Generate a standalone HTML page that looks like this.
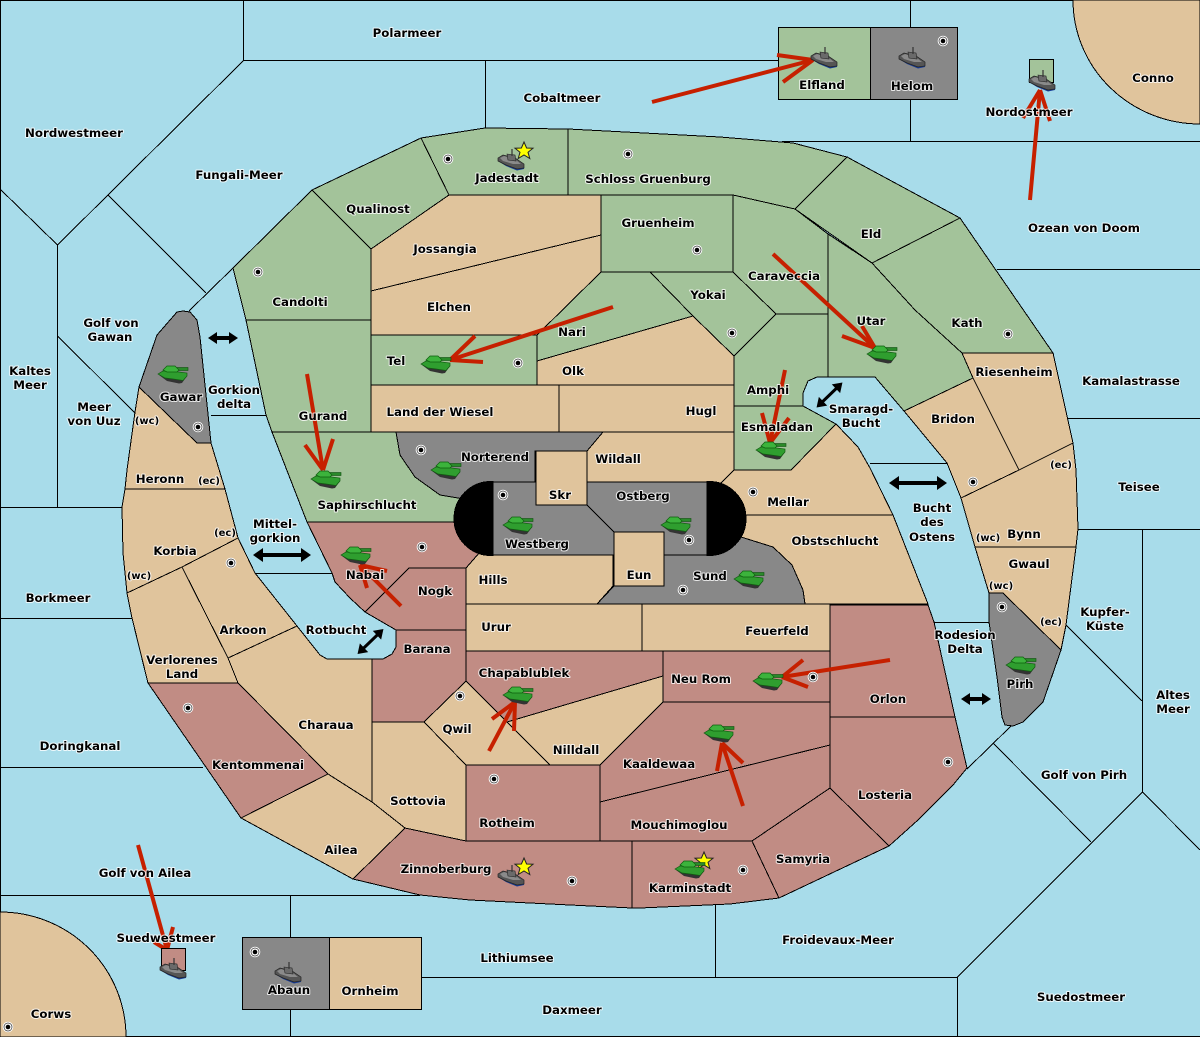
<!DOCTYPE html>
<html><head><meta charset="utf-8"><title>Map</title>
<style>
html,body{margin:0;padding:0;background:#a8dcea}
svg{display:block}
.l polygon,.l path{stroke:#000;stroke-width:1;shape-rendering:crispEdges;stroke-linejoin:miter}
.g{fill:#a3c39a}.t{fill:#e0c49c}.r{fill:#c18c84}.y{fill:#888888}
.s polyline,.s line{fill:none;stroke:#000;stroke-width:1;shape-rendering:crispEdges}
.a line{stroke:#c62000;stroke-width:4;stroke-linecap:butt}
text{font-family:"DejaVu Sans","Liberation Sans",sans-serif;font-weight:bold;font-size:11.8px;fill:#000;text-anchor:middle;paint-order:stroke;stroke:#fff;stroke-opacity:.8;stroke-width:2px;stroke-linejoin:round}
</style></head><body>
<svg xmlns="http://www.w3.org/2000/svg" width="1200" height="1037" viewBox="0 0 1200 1037">
<defs>
<g id="tank">
<polygon points="-14,1 -6,7 6,9.500 9,9 14,2" fill="#333"/>
<polygon points="-15,0 -10,-3 -2,-3 14,-1 14,2 10,6.500 0,5 -8,4" fill="#2f9e2f" stroke="#125a12" stroke-width=".7"/>
<rect x="3" y="-6.500" width="12" height="3" fill="#2a8a2a" stroke="#0f4f0f" stroke-width=".6"/>
<polygon points="-10,-4 -6,-8 2,-8 6,-4 4,-2 -6,-2" fill="#3cb33c" stroke="#0e5e0e" stroke-width=".7"/>
</g>
<g id="boat">
<polygon points="-13,1 -5,6 6,10.500 13,9 13,6" fill="#163c96"/>
<polygon points="-13,-2 -8,-5 4,-2 13,4 13,8 6,9 -5,5 -13,1" fill="#555" stroke="#222" stroke-width=".7"/>
<polygon points="-11,-2 -7,-4 5,0 10,4 2,4 -8,1" fill="#8a8a8a"/>
<polygon points="-4,-6 4,-5 5,1 -3,0" fill="#6a6a6a" stroke="#222" stroke-width=".6"/>
<line x1="1" y1="-11" x2="1" y2="-4" stroke="#333" stroke-width="1.200"/>
</g>
<g id="dot"><circle r="5.300" fill="#fff"/><circle r="4" fill="none" stroke="#333" stroke-width=".7"/><circle r="2.300" fill="#000"/></g>
<polygon id="star" points="0,-9 2.600,-3 9,-2.800 4,1.300 5.800,7.500 0,4 -5.800,7.500 -4,1.300 -9,-2.800 -2.600,-3" fill="#ffff00" stroke="#222" stroke-width="1"/>
</defs>
<rect width="1200" height="1037" fill="#a8dcea"/>
<g class="s">
<polyline points="0,0.500 1200,0.500"/><polyline points="0.500,0 0.500,1037"/><polyline points="0,1036.500 1200,1036.500"/>
<polyline points="243.500,0 243.500,60.500 57.500,245 0,189"/>
<polyline points="57.500,245 57.500,507"/>
<polyline points="108,195 206,293"/>
<polyline points="189,311 233,268"/>
<polyline points="57.500,336 135,413"/>
<polyline points="211,415.500 266,415.500"/>
<polyline points="243,60.500 778,60.500"/>
<polyline points="485.500,60 485.500,128"/>
<polyline points="910.500,0 910.500,27"/><polyline points="910.500,100 910.500,141"/>
<polyline points="782,141.500 1200,141.500"/>
<polyline points="997,269.500 1200,269.500"/>
<polyline points="1068,418.500 1200,418.500"/>
<polyline points="1078,529.500 1200,529.500"/>
<polyline points="1142.500,529 1142.500,792"/>
<polyline points="1200,850 1142.500,792 957.500,977 957.500,1037"/>
<polyline points="957.500,977.500 422,977.500"/>
<polyline points="0,895.500 420,895.500"/>
<polyline points="290.500,896 290.500,937"/><polyline points="290.500,1010 290.500,1037"/>
<polyline points="715.500,905 715.500,977"/>
<polyline points="993,743 1091,842"/>
<polyline points="1011,726 967,769"/>
<polyline points="1066,625 1142,701"/>
<polyline points="934,622.500 989,622.500"/>
<polyline points="870,463.500 947,463.500"/>
<polyline points="255,573.500 332,573.500"/>
<polyline points="0,507.500 122,507.500"/><polyline points="0,618.500 132,618.500"/><polyline points="0,767.500 203,767.500"/>
</g>
<g class="l">
<path class="t" d="M1073,0 A127,124 0 0 0 1200,124 L1200,0 Z"/>
<path class="t" d="M0,912 A126,125 0 0 1 126,1037 L0,1037 Z"/>
<!-- green -->
<polygon class="g" points="233,268 312,190 371,249 371,320 246,320"/>
<polygon class="g" points="312,190 421,138 449,195 371,249"/>
<polygon class="g" points="421,138 485,128 568,129 568,195 449,195"/>
<polygon class="g" points="568,129 720,137 793,143 847,157 795,209 733,195 568,195"/>
<polygon class="g" points="847,157 960,218 872,263 795,209"/>
<polygon class="g" points="960,218 1053,353 962,353 915,310 872,263"/>
<polygon class="g" points="733,195 795,209 828,234 828,314 776,314 733,272"/>
<polygon class="g" points="650,272 733,272 776,314 734,356 693,316"/>
<polygon class="g" points="601,195 733,195 733,272 601,272"/>
<polygon class="g" points="601,272 650,272 693,316 537,361 537,335"/>
<polygon class="g" points="371,335 537,335 537,385 371,385"/>
<polygon class="g" points="734,356 776,314 828,314 828,377 817,377 808,381 803,393 803,406 734,406"/>
<polygon class="g" points="734,406 803,406 836,424 791,470 734,470"/>
<polygon class="g" points="828,234 872,263 915,310 962,353 973,378 904,411 875,377 828,377"/>
<polygon class="g" points="246,320 371,320 371,432 272,432 266,415"/>
<polygon class="g" points="272,432 396,432 400,455 415,477 440,495 470,500 470,522 307,522"/>
<!-- tan -->
<polygon class="t" points="449,195 601,195 601,235 371,291 371,249"/>
<polygon class="t" points="371,291 601,235 601,272 537,335 371,335"/>
<polygon class="t" points="537,361 693,316 734,356 734,385 537,385"/>
<polygon class="t" points="371,385 559,385 559,432 371,432"/>
<polygon class="t" points="559,385 734,385 734,432 559,432"/>
<polygon class="t" points="962,353 1053,353 1073,443 1019,470 973,378"/>
<polygon class="t" points="904,411 973,378 1019,470 961,498 947,463"/>
<polygon class="t" points="961,498 1019,470 1073,443 1076,470 1078,529 1076,547 975,547"/>
<polygon class="t" points="975,547 1076,547 1066,625 1061,650 1003,593 989,593"/>
<polygon class="t" points="603,432 734,432 734,470 721,483 700,500 587,500 587,451"/>
<polygon class="t" points="721,483 734,470 791,470 836,424 858,447 870,468 893,515 745,515 730,500"/>
<polygon class="t" points="730,515 893,515 928,604 805,604 803,590 792,565 773,547 741,537 730,530"/>
<polygon class="t" points="466,568 480,550 613,550 613,586 597,604 466,604"/>
<polygon class="t" points="466,604 642,604 642,651 466,651"/>
<polygon class="t" points="642,604 830,604 830,651 642,651"/>
<polygon class="t" points="466,681 550,765 466,765 424,722"/>
<polygon class="t" points="507,722 663,676 663,702 600,765 550,765"/>
<polygon class="t" points="372,722 424,722 466,765 466,841 405,828 372,802"/>
<polygon class="t" points="228,658 297,626 320,655 327,659 372,659 372,802 328,774 238,683"/>
<polygon class="t" points="241,818 328,774 372,802 405,828 353,879"/>
<polygon class="t" points="182,567 238,538 255,573 297,626 228,658"/>
<polygon class="t" points="125,489 225,489 238,538 182,567 127,593 123,553 122,507"/>
<polygon class="t" points="127,593 182,567 228,658 238,683 148,683 132,618"/>
<polygon class="t" points="139,387 197,443 211,443 225,489 125,489 127,470 135,412"/>
<!-- rosy -->
<polygon class="r" points="830,605 928,605 934,622 955,717 830,717"/>
<polygon class="r" points="830,717 955,717 967,768 953,785 918,820 889,846 830,788"/>
<polygon class="r" points="830,788 889,846 779,898 752,841"/>
<polygon class="r" points="632,841 752,841 779,898 730,904 640,908 632,908"/>
<polygon class="r" points="405,828 466,841 632,841 632,908 570,905 470,900 420,895 353,879"/>
<polygon class="r" points="148,683 238,683 328,774 241,818"/>
<polygon class="r" points="396,630 466,630 466,681 424,722 372,722 372,659 383,659 392,654 396,647"/>
<polygon class="r" points="409,568 466,568 466,630 396,630 365,612"/>
<polygon class="r" points="307,522 470,522 470,540 480,552 466,568 409,568 365,612 350,598 335,582 332,573"/>
<polygon class="r" points="466,651 663,651 663,676 507,722 466,681"/>
<polygon class="r" points="663,651 830,651 830,702 663,702"/>
<polygon class="r" points="663,702 830,702 830,745 600,802 600,765"/>
<polygon class="r" points="600,802 830,745 830,788 752,841 600,841"/>
<polygon class="r" points="466,765 600,765 600,841 466,841"/>
<!-- gray -->
<polygon class="y" points="139,387 157,335 177,312 183,311 190,312 197,320 200,337 211,443 197,443"/>
<polygon class="y" points="989,593 1003,593 1061,650 1043,702 1023,722 1013,726 1005,725 1002,717 997,677 989,622"/>
<polygon class="y" points="396,432 603,432 587,451 535,451 535,500 470,500 440,495 415,477 400,455"/>
<polygon class="y" points="597,604 614,586 664,586 664,540 720,540 741,537 773,547 792,565 803,590 805,604"/>
<polygon class="y" points="493,482 536,482 536,505 587,505 614,532 614,555 493,555"/>
<polygon class="y" points="587,482 707,482 707,555 664,555 664,532 614,532 587,505"/>
<path fill="#000" d="M493,481.500 L491,481.500 A37,37 0 0 0 491,555.500 L493,555.500 Z"/>
<path fill="#000" d="M707,481.500 L709,481.500 A37,37 0 0 1 709,555.500 L707,555.500 Z"/>
<polygon class="t" points="536,451 587,451 587,505 536,505"/>
<polygon class="t" points="614,532 664,532 664,586 614,586"/>
<!-- off-map boxes -->
<polygon class="g" points="778.500,27.500 870.500,27.500 870.500,99.500 778.500,99.500"/>
<polygon class="y" points="870.500,27.500 957.500,27.500 957.500,99.500 870.500,99.500"/>
<polygon class="g" points="1029.500,59.500 1053.500,59.500 1053.500,82.500 1029.500,82.500"/>
<polygon class="y" points="242.500,937.500 329.500,937.500 329.500,1009.500 242.500,1009.500"/>
<polygon class="t" points="329.500,937.500 421.500,937.500 421.500,1009.500 329.500,1009.500"/>
</g>
<!-- black two-way arrows -->
<g fill="#000">
<polygon points="208,338 217,332 217,336 229,336 229,332 238,338 229,344 229,340 217,340 217,344"/>
<polygon points="253,555 263,548 263,553 301,553 301,548 311,555 301,562 301,557 263,557 263,562"/>
<polygon points="889,483 899,476 899,481 937,481 937,476 947,483 937,490 937,485 899,485 899,490"/>
<polygon points="961,699 970,693 970,697 982,697 982,693 991,699 982,705 982,701 970,701 970,705"/>
<polygon transform="translate(829.500,395) rotate(-44)" points="-18,0 -9,-6 -9,-1.500 9,-1.500 9,-6 18,0 9,6 9,1.500 -9,1.500 -9,6"/>
<polygon transform="translate(370.500,641.500) rotate(-44)" points="-18,0 -9,-6 -9,-1.500 9,-1.500 9,-6 18,0 9,6 9,1.500 -9,1.500 -9,6"/>
</g>
<!-- red orders -->
<g class="a">
<line x1="652" y1="102" x2="813" y2="60"/><line x1="813" y1="60" x2="777" y2="55"/><line x1="813" y1="60" x2="783" y2="82"/>
<line x1="1030" y1="200" x2="1040" y2="90"/><line x1="1040" y1="90" x2="1023" y2="118"/><line x1="1040" y1="90" x2="1050" y2="121"/>
<line x1="613" y1="307" x2="450" y2="360"/><line x1="450" y1="360" x2="475" y2="336"/><line x1="450" y1="360" x2="483" y2="362"/>
<line x1="307" y1="374" x2="323" y2="470"/><line x1="323" y1="470" x2="305" y2="445"/><line x1="323" y1="470" x2="333" y2="439"/>
<line x1="401" y1="606" x2="360" y2="565"/><line x1="360" y1="565" x2="387" y2="571"/><line x1="360" y1="565" x2="367" y2="588"/>
<line x1="773" y1="254" x2="875" y2="348"/><line x1="875" y1="348" x2="842" y2="336"/><line x1="875" y1="348" x2="862" y2="326"/>
<line x1="785" y1="370" x2="770" y2="443"/><line x1="770" y1="443" x2="762" y2="413"/><line x1="770" y1="443" x2="789" y2="418"/>
<line x1="890" y1="660" x2="782" y2="677"/><line x1="782" y1="677" x2="803" y2="660"/><line x1="782" y1="677" x2="808" y2="687"/>
<line x1="489" y1="751" x2="515" y2="702"/><line x1="515" y1="702" x2="492" y2="719"/><line x1="515" y1="702" x2="514" y2="731"/>
<line x1="743" y1="806" x2="722" y2="743"/><line x1="722" y1="743" x2="717" y2="771"/><line x1="722" y1="743" x2="743" y2="763"/>
<line x1="138" y1="845" x2="167" y2="950"/><line x1="167" y1="950" x2="173" y2="927"/><line x1="167" y1="950" x2="154" y2="942"/>
</g>
<g class="l"><polygon class="r" points="161.500,948.500 185.500,948.500 185.500,970.500 161.500,970.500"/></g>
<!-- supply centres -->
<use href="#dot" x="448" y="159"/><use href="#dot" x="628" y="154"/><use href="#dot" x="258" y="272"/><use href="#dot" x="697" y="250"/><use href="#dot" x="518" y="363"/><use href="#dot" x="732" y="333"/><use href="#dot" x="1008" y="334"/><use href="#dot" x="198" y="427"/><use href="#dot" x="421" y="450"/><use href="#dot" x="503" y="495"/><use href="#dot" x="689" y="540"/><use href="#dot" x="753" y="492"/><use href="#dot" x="683" y="590"/><use href="#dot" x="973" y="482"/><use href="#dot" x="1002" y="607"/><use href="#dot" x="231" y="563"/><use href="#dot" x="422" y="547"/><use href="#dot" x="460" y="696"/><use href="#dot" x="188" y="708"/><use href="#dot" x="494" y="779"/><use href="#dot" x="813" y="677"/><use href="#dot" x="948" y="762"/><use href="#dot" x="743" y="870"/><use href="#dot" x="572" y="881"/><use href="#dot" x="943" y="41"/><use href="#dot" x="255" y="952"/><use href="#dot" x="8" y="1027"/>
<!-- stars -->
<use href="#star" x="524" y="151"/><use href="#star" x="524" y="867"/><use href="#star" x="704" y="861"/>
<!-- units -->
<use href="#tank" x="173" y="374"/><use href="#tank" x="436" y="364"/><use href="#tank" x="326" y="479"/><use href="#tank" x="356" y="555"/><use href="#tank" x="446" y="470"/><use href="#tank" x="518" y="525"/><use href="#tank" x="676" y="525"/><use href="#tank" x="749" y="579"/><use href="#tank" x="518" y="695"/><use href="#tank" x="768" y="681"/><use href="#tank" x="719" y="733"/><use href="#tank" x="690" y="869"/><use href="#tank" x="1021" y="665"/><use href="#tank" x="771" y="450"/><use href="#tank" x="882" y="354"/>
<use href="#boat" x="511" y="160"/><use href="#boat" x="824" y="58"/><use href="#boat" x="912" y="58"/><use href="#boat" x="1042" y="81"/><use href="#boat" x="173" y="969"/><use href="#boat" x="288" y="973"/><use href="#boat" x="511" y="876"/>
<!-- labels -->
<text x="407" y="37">Polarmeer</text><text x="562" y="102">Cobaltmeer</text><text x="822" y="89">Elfland</text><text x="912" y="90">Helom</text><text x="1153" y="82">Conno</text><text x="1029" y="116">Nordostmeer</text><text x="74" y="137">Nordwestmeer</text><text x="239" y="179">Fungali-Meer</text><text x="507" y="182">Jadestadt</text><text x="648" y="183">Schloss Gruenburg</text><text x="378" y="213">Qualinost</text><text x="445" y="253">Jossangia</text><text x="658" y="227">Gruenheim</text><text x="871" y="238">Eld</text><text x="1084" y="232">Ozean von Doom</text><text x="784" y="280">Caraveccia</text><text x="449" y="311">Elchen</text><text x="300" y="306">Candolti</text><text x="708" y="299">Yokai</text><text x="572" y="336">Nari</text><text x="871" y="325">Utar</text><text x="967" y="327">Kath</text>
<text x="111" y="327">Golf von</text><text x="110" y="341">Gawan</text><text x="396" y="365">Tel</text><text x="573" y="375">Olk</text><text x="1014" y="376">Riesenheim</text><text x="1131" y="385">Kamalastrasse</text><text x="30" y="375">Kaltes</text><text x="30" y="389">Meer</text><text x="768" y="394">Amphi</text><text x="181" y="401">Gawar</text><text x="234" y="394">Gorkion</text><text x="234" y="408">delta</text><text x="94" y="411">Meer</text><text x="94" y="425">von Uuz</text><text x="147" y="424" style="font-size:10px">(wc)</text><text x="440" y="416">Land der Wiesel</text><text x="701" y="415">Hugl</text><text x="323" y="420">Gurand</text><text x="861" y="413">Smaragd-</text><text x="861" y="427">Bucht</text><text x="953" y="423">Bridon</text><text x="777" y="431">Esmaladan</text>
<text x="495" y="461">Norterend</text><text x="618" y="463">Wildall</text><text x="160" y="483">Heronn</text><text x="209" y="484" style="font-size:10px">(ec)</text><text x="1061" y="468" style="font-size:10px">(ec)</text><text x="1139" y="491">Teisee</text><text x="560" y="499">Skr</text><text x="643" y="500">Ostberg</text><text x="788" y="506">Mellar</text><text x="367" y="509">Saphirschlucht</text><text x="932" y="512">Bucht</text><text x="932" y="526">des</text><text x="932" y="541">Ostens</text><text x="275" y="528">Mittel-</text><text x="275" y="542">gorkion</text><text x="225" y="536" style="font-size:10px">(ec)</text><text x="988" y="541" style="font-size:10px">(wc)</text><text x="1024" y="538">Bynn</text><text x="537" y="548">Westberg</text><text x="835" y="545">Obstschlucht</text><text x="175" y="555">Korbia</text><text x="1029" y="568">Gwaul</text><text x="365" y="579">Nabai</text><text x="710" y="580">Sund</text><text x="639" y="579">Eun</text><text x="493" y="584">Hills</text><text x="139" y="579" style="font-size:10px">(wc)</text><text x="1001" y="589" style="font-size:10px">(wc)</text><text x="435" y="595">Nogk</text><text x="58" y="602">Borkmeer</text><text x="1105" y="616">Kupfer-</text><text x="1105" y="630">Küste</text><text x="1051" y="625" style="font-size:10px">(ec)</text>
<text x="496" y="631">Urur</text><text x="777" y="635">Feuerfeld</text><text x="336" y="634">Rotbucht</text><text x="243" y="634">Arkoon</text><text x="965" y="639">Rodesion</text><text x="965" y="653">Delta</text><text x="427" y="653">Barana</text><text x="182" y="664">Verlorenes</text><text x="182" y="678">Land</text><text x="524" y="677">Chapablublek</text><text x="701" y="683">Neu Rom</text><text x="1020" y="688">Pirh</text><text x="1173" y="699">Altes</text><text x="1173" y="713">Meer</text><text x="888" y="703">Orlon</text><text x="326" y="729">Charaua</text><text x="457" y="733">Qwil</text><text x="80" y="750">Doringkanal</text><text x="576" y="754">Nilldall</text><text x="258" y="769">Kentommenai</text><text x="659" y="768">Kaaldewaa</text><text x="1084" y="779">Golf von Pirh</text><text x="885" y="799">Losteria</text><text x="418" y="805">Sottovia</text><text x="507" y="827">Rotheim</text><text x="679" y="829">Mouchimoglou</text><text x="341" y="854">Ailea</text><text x="803" y="863">Samyria</text><text x="446" y="873">Zinnoberburg</text><text x="145" y="877">Golf von Ailea</text><text x="690" y="892">Karminstadt</text><text x="166" y="942">Suedwestmeer</text><text x="838" y="944">Froidevaux-Meer</text><text x="517" y="962">Lithiumsee</text><text x="289" y="994">Abaun</text><text x="370" y="995">Ornheim</text><text x="572" y="1014">Daxmeer</text><text x="1081" y="1001">Suedostmeer</text><text x="51" y="1018">Corws</text>
</svg>
</body></html>
